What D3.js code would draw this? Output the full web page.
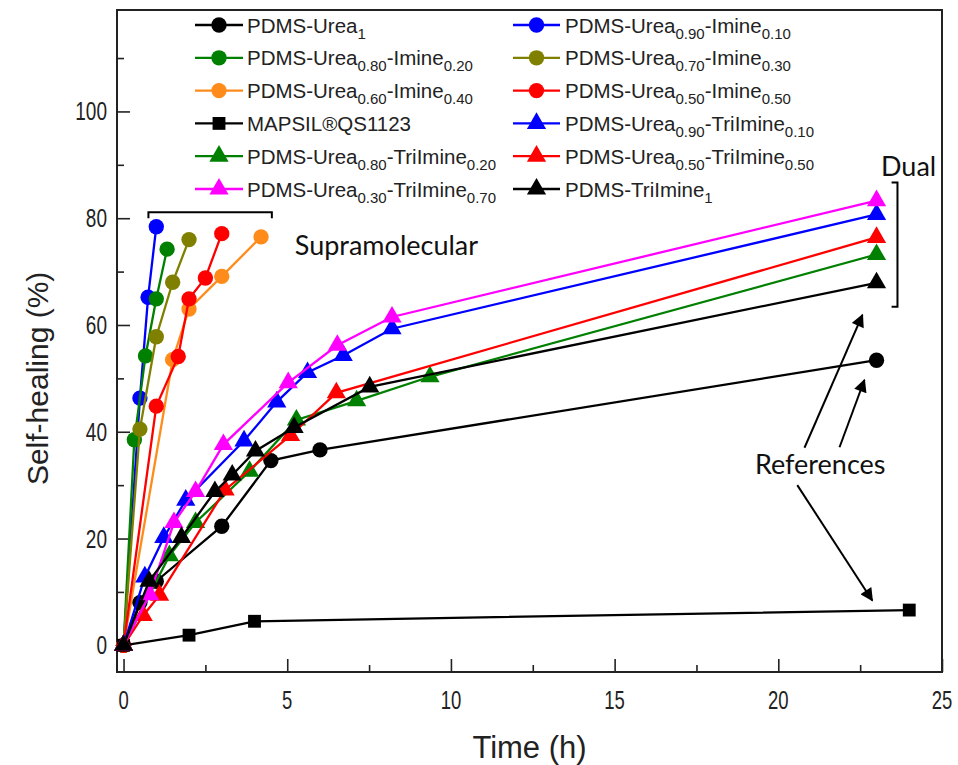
<!DOCTYPE html>
<html><head><meta charset="utf-8">
<script src="https://cdn.jsdelivr.net/npm/d3@7"></script>
<style>body{margin:0;background:#fff}svg{display:block}</style>
</head><body>
<svg id="chart" width="958" height="765"></svg>
<script>
// ---------- data ----------
const xDomain = [-0.2, 25];
const yDomain = [-5, 119];
const xMajorTicks = [0, 5, 10, 15, 20, 25];
const xMinorTicks = [2.5, 7.5, 12.5, 17.5, 22.5];
const yMajorTicks = [0, 20, 40, 60, 80, 100];
const yMinorTicks = [10, 30, 50, 70, 90, 110];
const xTitle = "Time (h)";
const yTitle = "Self-healing (%)";

const seriesLabels = [
  [["PDMS-Urea",0],["1",1]],
  [["PDMS-Urea",0],["0.90",1],["-Imine",0],["0.10",1]],
  [["PDMS-Urea",0],["0.80",1],["-Imine",0],["0.20",1]],
  [["PDMS-Urea",0],["0.70",1],["-Imine",0],["0.30",1]],
  [["PDMS-Urea",0],["0.60",1],["-Imine",0],["0.40",1]],
  [["PDMS-Urea",0],["0.50",1],["-Imine",0],["0.50",1]],
  [["MAPSIL®QS1123",0]],
  [["PDMS-Urea",0],["0.90",1],["-TriImine",0],["0.10",1]],
  [["PDMS-Urea",0],["0.80",1],["-TriImine",0],["0.20",1]],
  [["PDMS-Urea",0],["0.50",1],["-TriImine",0],["0.50",1]],
  [["PDMS-Urea",0],["0.30",1],["-TriImine",0],["0.70",1]],
  [["PDMS-TriImine",0],["1",1]]
];
const seriesColors = ["#000000","#0000ff","#008000","#808000","#ff8c1a","#ff0000",
                      "#000000","#0000ff","#008000","#ff0000","#ff00ff","#000000"];
const seriesShapes = ["circle","circle","circle","circle","circle","circle",
                      "square","triangle","triangle","triangle","triangle","triangle"];

const urea1     = [[0,0],[0.5,8],[1,12],[3,22.3],[4.5,34.6],[6,36.6],[23,53.4]];
const u90i10    = [[0,0],[0.5,46.3],[0.75,65.2],[1,78.4]];
const u80i20    = [[0,0],[0.33,38.5],[0.67,54.2],[1,64.9],[1.33,74.2]];
const u70i30    = [[0,0],[0.5,40.5],[1,57.8],[1.5,68],[2,76]];
const u60i40    = [[0,0],[1.5,53.5],[2,63],[3,69.1],[4.2,76.5]];
const u50i50    = [[0,0],[1,44.8],[1.67,54.1],[2,64.9],[2.5,68.8],[3,77.1]];
const mapsil    = [[0,0],[2,1.9],[4,4.5],[24,6.6]];
const u90t10    = [[0,0],[0.65,12.8],[1.23,20.2],[1.9,27.2],[3.68,38.3],[4.68,45.6],[5.62,51.1],[6.71,54.3],[8.2,59.3],[23,80.7]];
const u80t20    = [[0,0],[1.4,16.8],[2.2,23],[3.85,32.6],[5.28,42.2],[7.12,45.8],[9.36,50.3],[23,73.2]];
const u50t50    = [[0,0],[0.6,5.6],[1.1,9.4],[3.1,29.1],[5.1,39.3],[6.5,47.3],[23,76.4]];
const u30t70    = [[0,0],[0.8,9.5],[1.54,23],[2.2,28.8],[3.05,37.6],[5.03,49.2],[6.53,56.2],[8.2,61.5],[23,83.3]];
const trilmine1 = [[0,0],[0.78,12],[1.77,20.2],[2.79,28.8],[3.32,31.9],[4.03,36.4],[5.21,40.8],[7.52,48.4],[23,67.9]];
const seriesValues = [urea1,u90i10,u80i20,u70i30,u60i40,u50i50,mapsil,u90t10,u80t20,u50t50,u30t70,trilmine1];

// annotations (data units)
const supraLabel = {text:"Supramolecular", t:5.23, v:73.2};
const supraBracket = {t0:0.76, t1:4.53, v:81.1, drop:1.1};
const dualLabel = {text:"Dual", t:23.98, v:88};
const dualBracket = {t:23.64, v0:63.4, v1:86.7, back:0.18};
const refLabel = {text:"References", t:21.28, v:32.1};
const refArrows = [
  [[20.8,37],[22.57,61.9]],
  [[21.87,37.1],[22.63,49.7]],
  [[20.58,30],[22.87,8.4]]
];

// ---------- drawing ----------
const svg = d3.select("#chart");
const plot = {left:117, right:942, top:10, bottom:672};
const x = d3.scaleLinear().domain(xDomain).range([plot.left, plot.right]);
const y = d3.scaleLinear().domain(yDomain).range([plot.bottom, plot.top]);
const FONT = "'Liberation Sans', Arial, sans-serif";
const ANNOT = "Lato, 'Open Sans', sans-serif";

svg.append("defs").append("marker")
  .attr("id","arrow").attr("viewBox","0 0 10 10").attr("refX",9).attr("refY",5)
  .attr("markerUnits","userSpaceOnUse").attr("markerWidth",15).attr("markerHeight",13)
  .attr("orient","auto")
  .append("path").attr("d","M0,0 L10,5 L0,10 Z").attr("fill","#000");

// axes with inward ticks
svg.append("g").attr("transform",`translate(0,${plot.bottom})`)
  .call(d3.axisBottom(x).tickValues(xMajorTicks).tickSize(-13).tickFormat(""));
svg.append("g").attr("transform",`translate(0,${plot.bottom})`)
  .call(d3.axisBottom(x).tickValues(xMinorTicks).tickSize(-7).tickFormat(""));
svg.append("g").attr("transform",`translate(${plot.left},0)`)
  .call(d3.axisLeft(y).tickValues(yMajorTicks).tickSize(-13).tickFormat(""));
svg.append("g").attr("transform",`translate(${plot.left},0)`)
  .call(d3.axisLeft(y).tickValues(yMinorTicks).tickSize(-7).tickFormat(""));
svg.selectAll(".domain").remove();
svg.selectAll(".tick line").attr("stroke","#222").attr("stroke-width",1.6);

// tick labels (narrow, as in the reference)
xMajorTicks.forEach(t => {
  svg.append("text").attr("transform",`translate(${x(t)},709) scale(0.74,1)`)
    .attr("text-anchor","middle").attr("font-family",FONT).attr("font-size",25)
    .attr("fill","#222").text(t);
});
yMajorTicks.forEach(v => {
  svg.append("text").attr("transform",`translate(${plot.left-10},${y(v)+9}) scale(0.76,1)`)
    .attr("text-anchor","end").attr("font-family",FONT).attr("font-size",25)
    .attr("fill","#222").text(v);
});

// frame
svg.append("rect").attr("x",plot.left).attr("y",plot.top)
  .attr("width",plot.right-plot.left).attr("height",plot.bottom-plot.top)
  .attr("fill","none").attr("stroke","#222").attr("stroke-width",2);

// axis titles
svg.append("text").attr("x",(plot.left+plot.right)/2).attr("y",758)
  .attr("text-anchor","middle").attr("font-family",FONT).attr("font-size",31)
  .attr("fill","#222").text(xTitle);
svg.append("text").attr("transform",`translate(48,${y(50)}) rotate(-90)`)
  .attr("text-anchor","middle").attr("font-family",FONT).attr("font-size",30)
  .attr("fill","#222").text(yTitle);

// symbols
const symType = {circle:d3.symbolCircle, square:d3.symbolSquare, triangle:d3.symbolTriangle};
const symSize = {circle:185, square:165, triangle:160};
const sym = s => d3.symbol().type(symType[s]).size(symSize[s])();

const line = d3.line().x(d => x(d[0])).y(d => y(d[1]));
seriesValues.forEach((vals,i) => {
  const g = svg.append("g");
  g.append("path").attr("d",line(vals)).attr("fill","none")
    .attr("stroke",seriesColors[i]).attr("stroke-width",2.3);
  g.selectAll("path.m").data(vals).join("path").attr("class","m")
    .attr("d",sym(seriesShapes[i]))
    .attr("transform",d => `translate(${x(d[0])},${y(d[1])})`)
    .attr("fill",seriesColors[i]);
});

// legend
const legendCols = [{x1:195,x2:243,tx:247},{x1:513,x2:560,tx:565}];
const legendRow0 = 25, legendDy = 32.8;
seriesLabels.forEach((parts,i) => {
  const c = legendCols[i%2], r = Math.floor(i/2);
  const cy = legendRow0 + r*legendDy;
  const g = svg.append("g");
  g.append("line").attr("x1",c.x1).attr("x2",c.x2).attr("y1",cy).attr("y2",cy)
    .attr("stroke",seriesColors[i]).attr("stroke-width",2.3);
  g.append("path").attr("d",sym(seriesShapes[i]))
    .attr("transform",`translate(${(c.x1+c.x2)/2},${cy})`).attr("fill",seriesColors[i]);
  const t = g.append("text").attr("x",c.tx).attr("y",cy+7.5)
    .attr("font-family",FONT).attr("font-size",20.5).attr("fill","#222");
  let shifted = false;
  parts.forEach(([s,sub]) => {
    const ts = t.append("tspan").text(s);
    if (sub) { ts.attr("font-size",15).attr("dy", shifted ? 0 : 6); shifted = true; }
    else { if (shifted) ts.attr("dy",-6); shifted = false; }
  });
});

// annotations
const ann = svg.append("g").attr("font-family",ANNOT).attr("font-size",27).attr("fill","#111");
ann.append("text").attr("x",x(supraLabel.t)).attr("y",y(supraLabel.v)).text(supraLabel.text);
ann.append("text").attr("x",x(dualLabel.t)).attr("y",y(dualLabel.v))
  .attr("text-anchor","middle").text(dualLabel.text);
ann.append("text").attr("x",x(refLabel.t)).attr("y",y(refLabel.v))
  .attr("text-anchor","middle").text(refLabel.text);

const bracketPath = d3.path();
bracketPath.moveTo(x(supraBracket.t0), y(supraBracket.v - supraBracket.drop));
bracketPath.lineTo(x(supraBracket.t0), y(supraBracket.v));
bracketPath.lineTo(x(supraBracket.t1), y(supraBracket.v));
bracketPath.lineTo(x(supraBracket.t1), y(supraBracket.v - supraBracket.drop));
svg.append("path").attr("d",bracketPath.toString()).attr("fill","none")
  .attr("stroke","#000").attr("stroke-width",2);

const dualPath = d3.path();
dualPath.moveTo(x(dualBracket.t - dualBracket.back), y(dualBracket.v1));
dualPath.lineTo(x(dualBracket.t), y(dualBracket.v1));
dualPath.lineTo(x(dualBracket.t), y(dualBracket.v0));
dualPath.lineTo(x(dualBracket.t - dualBracket.back), y(dualBracket.v0));
svg.append("path").attr("d",dualPath.toString()).attr("fill","none")
  .attr("stroke","#000").attr("stroke-width",2);

refArrows.forEach(a => {
  svg.append("line").attr("x1",x(a[0][0])).attr("y1",y(a[0][1]))
    .attr("x2",x(a[1][0])).attr("y2",y(a[1][1]))
    .attr("stroke","#000").attr("stroke-width",2).attr("marker-end","url(#arrow)");
});
</script>
</body></html>
